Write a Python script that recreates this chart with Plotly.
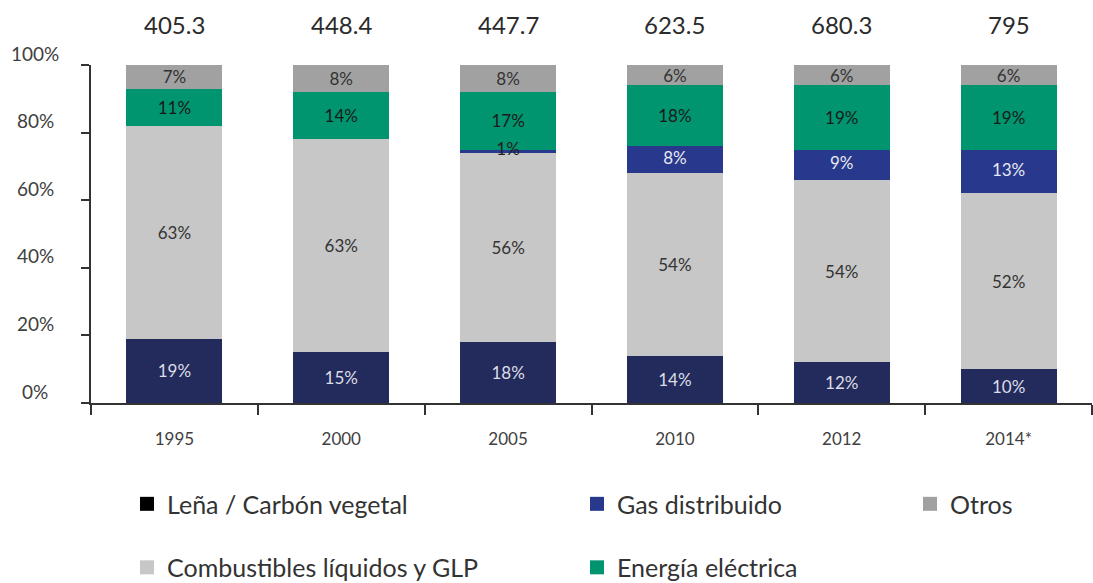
import plotly.graph_objects as go

years = ["1995", "2000", "2005", "2010", "2012", "2014*"]
totals = ["405.3", "448.4", "447.7", "623.5", "680.3", "795"]

lena = [19, 15, 18, 14, 12, 10]
combustibles = [63, 63, 56, 54, 54, 52]
gas = [0, 0, 1, 8, 9, 13]
electrica = [11, 14, 17, 18, 19, 19]
otros = [7, 8, 8, 6, 6, 6]

y_ticks = [0, 20, 40, 60, 80, 100]
y_tick_labels = ["0%", "20%", "40%", "60%", "80%", "100%"]

FONT = "Lato"
DARK_TEXT = "#1f1f1f"

# (name, values, bar colour, legend colour, label colour, legend id, legend rank)
series = [
    ("Leña / Carbón vegetal", lena, "#232b5c", "#000000", "#dcdde6", "legend", 1),
    ("Combustibles líquidos y GLP", combustibles, "#c6c7c6", "#c6c7c6", "#333333", "legend", 2),
    ("Gas distribuido", gas, "#28388c", "#28388c", "#e6e8f2", "legend2", 1),
    ("Energía eléctrica", electrica, "#00956e", "#00956e", "#1a1a1a", "legend2", 2),
    ("Otros", otros, "#a1a1a1", "#a1a1a1", "#333333", "legend3", 1),
]

fig = go.Figure()

base = [0] * len(years)
overlay = None
for name, vals, col, lcol, tcol, leg, rank in series:
    labels = [f"{v}%" if v > 0 else "" for v in vals]
    if name == "Gas distribuido":
        # thin segments: labels go in a text layer above all bars
        mids = [b + v / 2 for b, v in zip(base, vals)]
        colors = [tcol if v >= 3 else DARK_TEXT for v in vals]
        overlay = (mids, labels, colors)
        bar_text = None
    else:
        bar_text = labels
    fig.add_trace(go.Bar(
        x=years, y=vals, name=name, showlegend=False,
        marker=dict(color=col, line=dict(width=0)),
        text=bar_text,
        textposition="inside", insidetextanchor="middle",
        textfont=dict(family=FONT, size=17, color=tcol),
        hoverinfo="skip",
    ))
    base = [b + v for b, v in zip(base, vals)]

mids, labels, colors = overlay
fig.add_trace(go.Scatter(
    x=years, y=mids, mode="text", text=labels, showlegend=False,
    textposition="middle center", cliponaxis=False, hoverinfo="skip",
    textfont=dict(family=FONT, size=17, color=colors),
))

# legend entries drawn as square markers
for name, vals, col, lcol, tcol, leg, rank in series:
    fig.add_trace(go.Scatter(
        x=[None], y=[None], mode="markers", name=name,
        marker=dict(symbol="square", size=14, color=lcol),
        legend=leg, legendgroup=name, legendrank=rank,
    ))

# totals above each bar
for i, tot in enumerate(totals):
    fig.add_annotation(x=i, y=1.121, xref="x", yref="paper", text=tot,
                       showarrow=False, yanchor="middle",
                       font=dict(family=FONT, size=24, color="#2b2b2b"))

# y tick labels, set slightly above their ticks
for v, lab in zip(y_ticks, y_tick_labels):
    fig.add_annotation(x=0, y=v, xref="paper", yref="y", text=lab,
                       showarrow=False, xanchor="center", yanchor="middle",
                       xshift=-56, yshift=12,
                       font=dict(family=FONT, size=19, color="#404040"))

leg_common = dict(orientation="v", yanchor="top", xanchor="left",
                  font=dict(family=FONT, size=25, color="#333333"),
                  tracegroupgap=28, traceorder="grouped",
                  bgcolor="rgba(0,0,0,0)", itemsizing="trace")

fig.update_layout(
    width=1093, height=583,
    margin=dict(l=91, r=1, t=65, b=180, autoexpand=False),
    paper_bgcolor="white", plot_bgcolor="white",
    barmode="stack", bargap=0.424,
    font=dict(family=FONT),
    uniformtext=dict(minsize=17, mode="show"),
    xaxis=dict(type="category", range=[-0.5, 5.5], tickson="boundaries",
               ticks="outside", ticklen=10, tickwidth=1.5, tickcolor="#333333",
               showline=True, linecolor="#333333", linewidth=1.5,
               showgrid=False, ticklabelstandoff=20,
               tickfont=dict(family=FONT, size=17, color="#404040")),
    yaxis=dict(range=[0, 100], tickvals=y_ticks, showticklabels=False,
               ticks="outside", ticklen=8, tickwidth=1.5, tickcolor="#333333",
               showline=True, linecolor="#333333", linewidth=1.5,
               showgrid=False, zeroline=False),
    legend=dict(x=(127 - 91) / 1001, y=-0.231, **leg_common),
    legend2=dict(x=(577 - 91) / 1001, y=-0.231, **leg_common),
    legend3=dict(x=(910 - 91) / 1001, y=-0.231, **leg_common),
)

fig.write_html("out.html")
